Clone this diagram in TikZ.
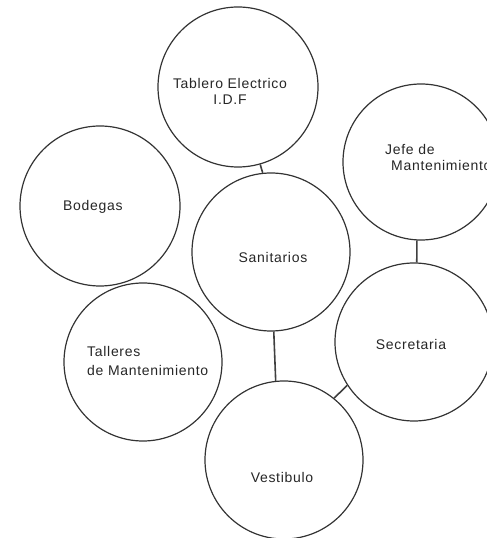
\documentclass[tikz,border=0pt]{standalone}
\usepackage{fontspec}
\setmainfont{Liberation Sans}[LetterSpace=5]
\begin{document}
\begin{tikzpicture}[x=1pt,y=1pt,
  room/.style={circle,draw=black!80,line width=1.2pt,inner sep=0pt,minimum size=158pt},
  link/.style={draw=black!75,line width=1.6pt},
  lbl/.style={font=\fontsize{14}{16}\selectfont,text=black!85,inner sep=0pt}]
\useasboundingbox (0,0) rectangle (487,538);
\clip (0,0) rectangle (487,538);
\node[room,minimum size=160pt] (tab) at (238,451) {};
\node[room,minimum size=160pt] (bod) at (100,332) {};
\node[room] (san) at (271,286) {};
\node[room,minimum size=156pt] (jefe) at (421,376) {};
\node[room] (tal) at (143,176) {};
\node[room] (sec) at (414,196) {};
\node[room] (ves) at (284,78) {};
\node[lbl,align=center] (tabt) at (230,447) {Tablero Electrico\\I.D.F};
\node[lbl,anchor=west] (bodt) at (63,331) {Bodegas};
\node[lbl] (sant) at (273,281) {Sanitarios};
\node[lbl,anchor=north west,align=left] (jefet) at (385,394) {Jefe de\\\hspace{6pt}Mantenimiento};
\node[lbl,anchor=west,align=left,font=\fontsize{14}{19}\selectfont] (talt) at (87,177.5) {Talleres\\de Mantenimiento};
\node[lbl] (sect) at (411,194) {Secretaria};
\node[lbl] (vest) at (282,61) {Vestibulo};
\draw[link] (tab.-74) -- (san.96);
\draw[link] (jefe.-93) -- (sec.88);
\draw[link] (san.-88.5) -- (ves.96.6);
\draw[link] (ves.51.6) -- (sec.213.9);
\end{tikzpicture}
\end{document}
